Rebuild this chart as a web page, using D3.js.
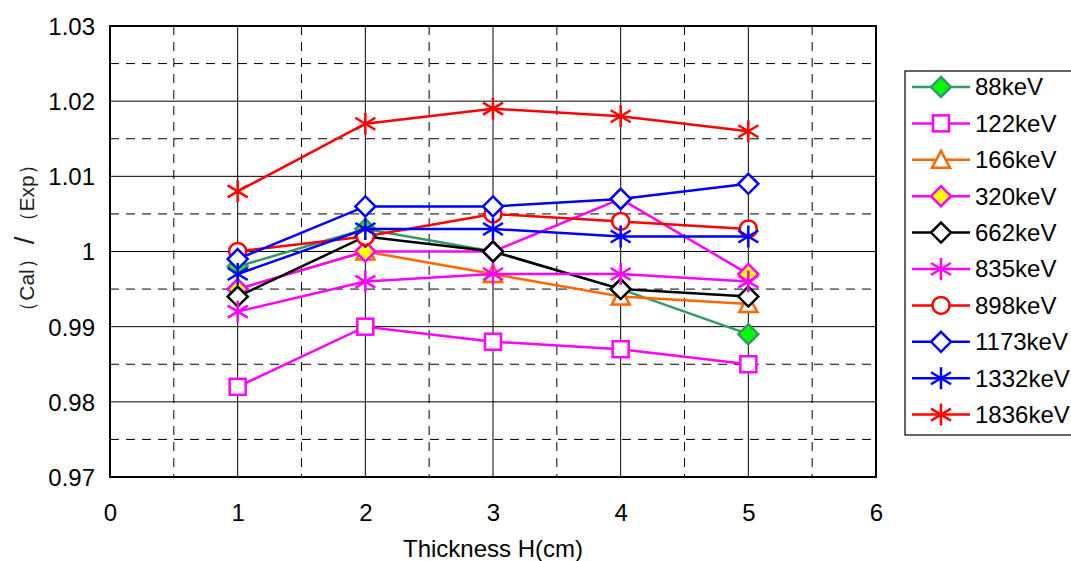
<!DOCTYPE html>
<html><head><meta charset="utf-8">
<script src="https://cdn.jsdelivr.net/npm/d3@7"></script>
<style>body{margin:0;background:#fff}svg{display:block}text{font-family:"Liberation Sans",Arial,sans-serif}</style>
</head><body>
<svg id="c" width="1071" height="561"></svg>
<script>
const thickness = [1, 2, 3, 4, 5];
const seriesNames = ["88keV","122keV","166keV","320keV","662keV","835keV","898keV","1173keV","1332keV","1836keV"];
const v88   = [0.998, 1.003, 1.000, 0.995, 0.989];
const v122  = [0.982, 0.990, 0.988, 0.987, 0.985];
const v166  = [0.995, 1.000, 0.997, 0.994, 0.993];
const v320  = [0.995, 1.000, 1.000, 1.007, 0.997];
const v662  = [0.994, 1.002, 1.000, 0.995, 0.994];
const v835  = [0.992, 0.996, 0.997, 0.997, 0.996];
const v898  = [1.000, 1.002, 1.005, 1.004, 1.003];
const v1173 = [0.999, 1.006, 1.006, 1.007, 1.009];
const v1332 = [0.997, 1.003, 1.003, 1.002, 1.002];
const v1836 = [1.008, 1.017, 1.019, 1.018, 1.016];
const xTicks = [0, 1, 2, 3, 4, 5, 6];
const yTicks = [0.97, 0.98, 0.99, 1.00, 1.01, 1.02, 1.03];

const styles = [
  {c:"#339966", m:"diamond", f:"#00ff00"},
  {c:"#ff00ff", m:"square", f:"#fff"},
  {c:"#ff6600", m:"triangle", f:"#fff"},
  {c:"#ff00ff", m:"diamond", f:"#ffff00"},
  {c:"#000000", m:"diamond", f:"#fff"},
  {c:"#ff00ff", m:"star", f:"none"},
  {c:"#ff0000", m:"circle", f:"#fff"},
  {c:"#0000ff", m:"diamond", f:"#fff"},
  {c:"#0000ff", m:"star", f:"none"},
  {c:"#ff0000", m:"star", f:"none"}
];
const values = [v88,v122,v166,v320,v662,v835,v898,v1173,v1332,v1836];

const svg = d3.select("#c");
const L=110, R=876, T=26, B=477;
const x = d3.scaleLinear().domain([0,6]).range([L,R]);
const y = d3.scaleLinear().domain([0.97,1.03]).range([B,T]);

const g = svg.append("g");
const halfX = d3.range(0.5,6,1), halfY = d3.range(0.975,1.03,0.01);
g.selectAll(".vd").data(halfX).join("line").attr("x1",d=>x(d)).attr("x2",d=>x(d)).attr("y1",T).attr("y2",B)
  .attr("stroke","#000").attr("stroke-width",1).attr("stroke-dasharray","9,7");
g.selectAll(".hd").data(halfY).join("line").attr("x1",L).attr("x2",R).attr("y1",d=>y(d)).attr("y2",d=>y(d))
  .attr("stroke","#000").attr("stroke-width",1).attr("stroke-dasharray","9,7");
g.selectAll(".vs").data(xTicks.slice(1,-1)).join("line").attr("x1",d=>x(d)).attr("x2",d=>x(d)).attr("y1",T).attr("y2",B)
  .attr("stroke","#000").attr("stroke-width",1);
g.selectAll(".hs").data(yTicks.slice(1,-1)).join("line").attr("x1",L).attr("x2",R).attr("y1",d=>y(d)).attr("y2",d=>y(d))
  .attr("stroke","#000").attr("stroke-width",1);
g.append("rect").attr("x",L).attr("y",T).attr("width",R-L).attr("height",B-T).attr("fill","none").attr("stroke","#000").attr("stroke-width",2);

const xa = d3.axisBottom(x).tickValues(xTicks).tickSize(0).tickPadding(0).tickFormat(d3.format("d"));
const xg = svg.append("g").attr("transform",`translate(0,${B})`).call(xa);
xg.select(".domain").remove();
xg.selectAll("text").attr("y",44).attr("dy",0).attr("font-size",24).attr("fill","#000").style("font-family","'Liberation Sans',Arial,sans-serif");
const ya = d3.axisLeft(y).tickValues(yTicks).tickSize(0).tickPadding(0).tickFormat(d=>d3.format("")(+d.toFixed(2)));
const yg = svg.append("g").attr("transform",`translate(95,0)`).call(ya);
yg.select(".domain").remove();
yg.selectAll("text").attr("dy","0.35em").attr("font-size",24).attr("fill","#000").style("font-family","'Liberation Sans',Arial,sans-serif");

svg.append("text").attr("x",(L+R)/2).attr("y",557).attr("text-anchor","middle").attr("font-size",24).text("Thickness H(cm)");
const yl = svg.append("text").attr("transform","translate(34,238) rotate(-90)").attr("text-anchor","middle").attr("font-size",21).attr("fill","#222");
yl.append("tspan").text("（Cal）");
yl.append("tspan").attr("font-size",28).attr("dx",4).text("/");
yl.append("tspan").attr("dx",4).text("（Exp）");

function marker(sel, s, cx, cy){
  const gg = sel.append("g").attr("transform",`translate(${cx},${cy})`);
  const sw = 2.5;
  if(s.m==="diamond"){
    gg.append("path").attr("d","M0,-10L10,0L0,10L-10,0Z").attr("fill",s.f).attr("stroke",s.c).attr("stroke-width",sw);
  } else if(s.m==="square"){
    gg.append("rect").attr("x",-8).attr("y",-8).attr("width",16).attr("height",16).attr("fill",s.f).attr("stroke",s.c).attr("stroke-width",sw);
  } else if(s.m==="triangle"){
    gg.append("path").attr("d","M0,-9L9,8L-9,8Z").attr("fill",s.f).attr("stroke",s.c).attr("stroke-width",sw);
  } else if(s.m==="circle"){
    gg.append("circle").attr("r",8.5).attr("fill",s.f).attr("stroke",s.c).attr("stroke-width",sw);
  } else {
    gg.append("path").attr("d","M0,-11L0,11M-10,-6L10,6M-10,6L10,-6").attr("fill","none").attr("stroke",s.c).attr("stroke-width",sw);
  }
}

const line = d3.line().x((d,i)=>x(thickness[i])).y(d=>y(d));
values.forEach((vals,k)=>{
  const s = styles[k];
  const sg = svg.append("g");
  sg.append("path").attr("d",line(vals)).attr("fill","none").attr("stroke",s.c).attr("stroke-width",2.5);
  vals.forEach((v,i)=>marker(sg,s,x(thickness[i]),y(v)));
});

const lg = svg.append("g");
lg.append("rect").attr("x",905).attr("y",71).attr("width",175).attr("height",364).attr("fill","#fff").attr("stroke","#000").attr("stroke-width",1.2);
seriesNames.forEach((n,k)=>{
  const s = styles[k], yy = 87 + k*36.4;
  lg.append("line").attr("x1",912).attr("x2",970).attr("y1",yy).attr("y2",yy).attr("stroke",s.c).attr("stroke-width",2.5);
  marker(lg,s,941,yy);
  lg.append("text").attr("x",975).attr("y",yy).attr("dy","0.35em").attr("font-size",24).text(n);
});
</script>
</body></html>
